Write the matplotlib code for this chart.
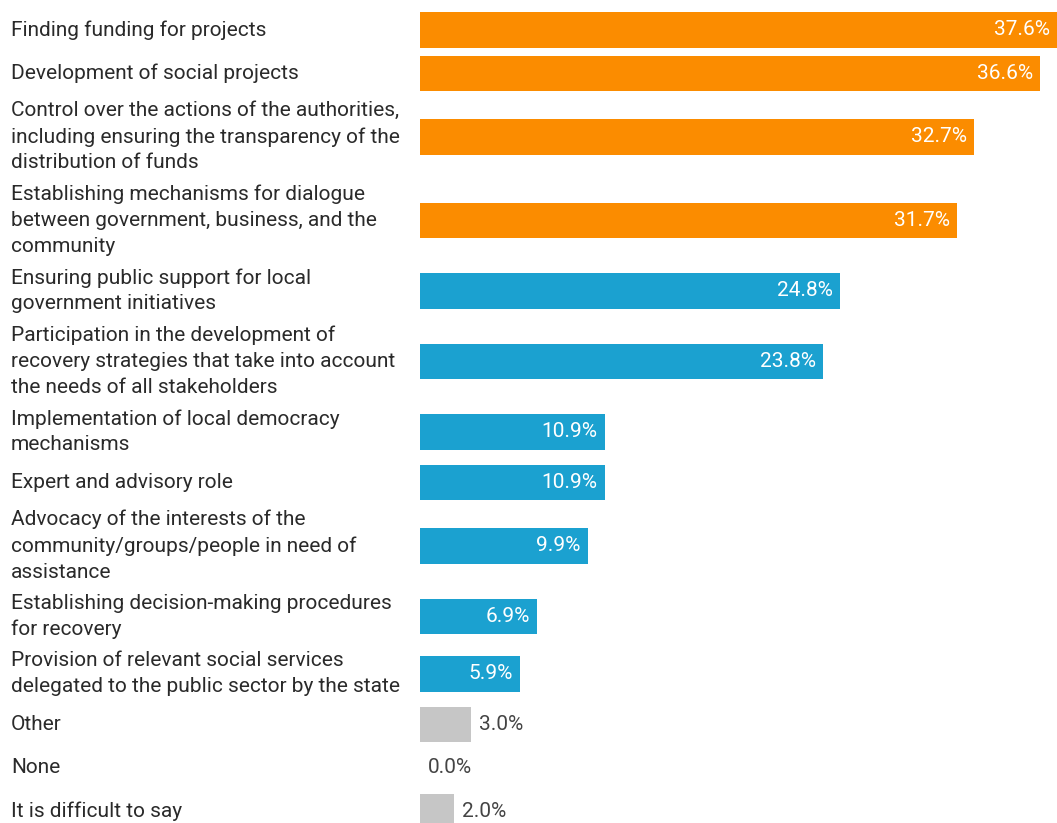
import matplotlib
matplotlib.use("Agg")
import matplotlib.pyplot as plt

# Survey answers and their shares (%)
categories = [
    "Finding funding for projects",
    "Development of social projects",
    "Control over the actions of the authorities,\nincluding ensuring the transparency of the\ndistribution of funds",
    "Establishing mechanisms for dialogue\nbetween government, business, and the\ncommunity",
    "Ensuring public support for local\ngovernment initiatives",
    "Participation in the development of\nrecovery strategies that take into account\nthe needs of all stakeholders",
    "Implementation of local democracy\nmechanisms",
    "Expert and advisory role",
    "Advocacy of the interests of the\ncommunity/groups/people in need of\nassistance",
    "Establishing decision-making procedures\nfor recovery",
    "Provision of relevant social services\ndelegated to the public sector by the state",
    "Other",
    "None",
    "It is difficult to say",
]
values = [37.6, 36.6, 32.7, 31.7, 24.8, 23.8, 10.9, 10.9, 9.9, 6.9, 5.9, 3.0, 0.0, 2.0]
groups = ["top", "top", "top", "top", "mid", "mid", "mid", "mid", "mid", "mid", "mid",
          "rest", "rest", "rest"]

group_colors = {"top": "#FB8C00", "mid": "#1BA1D0", "rest": "#C6C6C6"}

W, H = 1057, 823
DPI = 100
plt.rcParams["font.family"] = ["Roboto", "DejaVu Sans"]

fig = plt.figure(figsize=(W / DPI, H / DPI), dpi=DPI)

# layout in pixels
bar_left_px = 420
px_per_pct = 16.95
label_left_px = 11
line_px = 26.0
bar_px = 35.5
gap_px = 8.0
top_px = 8.0

# row heights grow with the number of label lines
n_lines = [c.count("\n") + 1 for c in categories]
row_h = [max(bar_px, line_px * n - 2.5) + gap_px for n in n_lines]
centers = []
y = top_px
for h in row_h:
    centers.append(y + h / 2)
    y += h

ax = fig.add_axes([bar_left_px / W, 0, (W - bar_left_px) / W, 1])
ax.set_xlim(0, (W - bar_left_px) / px_per_pct)
ax.set_ylim(H, 0)
ax.axis("off")

colors = [group_colors[g] for g in groups]
ax.barh(centers, values, height=bar_px, left=0, color=colors, edgecolor="none")

label_x = (label_left_px - bar_left_px) / (W - bar_left_px)
for c, yc in zip(categories, centers):
    ax.text(label_x, yc, c, transform=ax.get_yaxis_transform(), ha="left", va="center",
            fontsize=15, color="#2a2a2a", linespacing=1.45, clip_on=False)

for v, yc in zip(values, centers):
    txt = f"{v:.1f}%"
    if v >= 5:
        ax.annotate(txt, (v, yc), xytext=(-7, 0), textcoords="offset pixels",
                    ha="right", va="center", fontsize=15, color="white")
    else:
        ax.annotate(txt, (v, yc), xytext=(8, 0), textcoords="offset pixels",
                    ha="left", va="center", fontsize=15, color="#444444")

fig.savefig("out.png", dpi=DPI)
